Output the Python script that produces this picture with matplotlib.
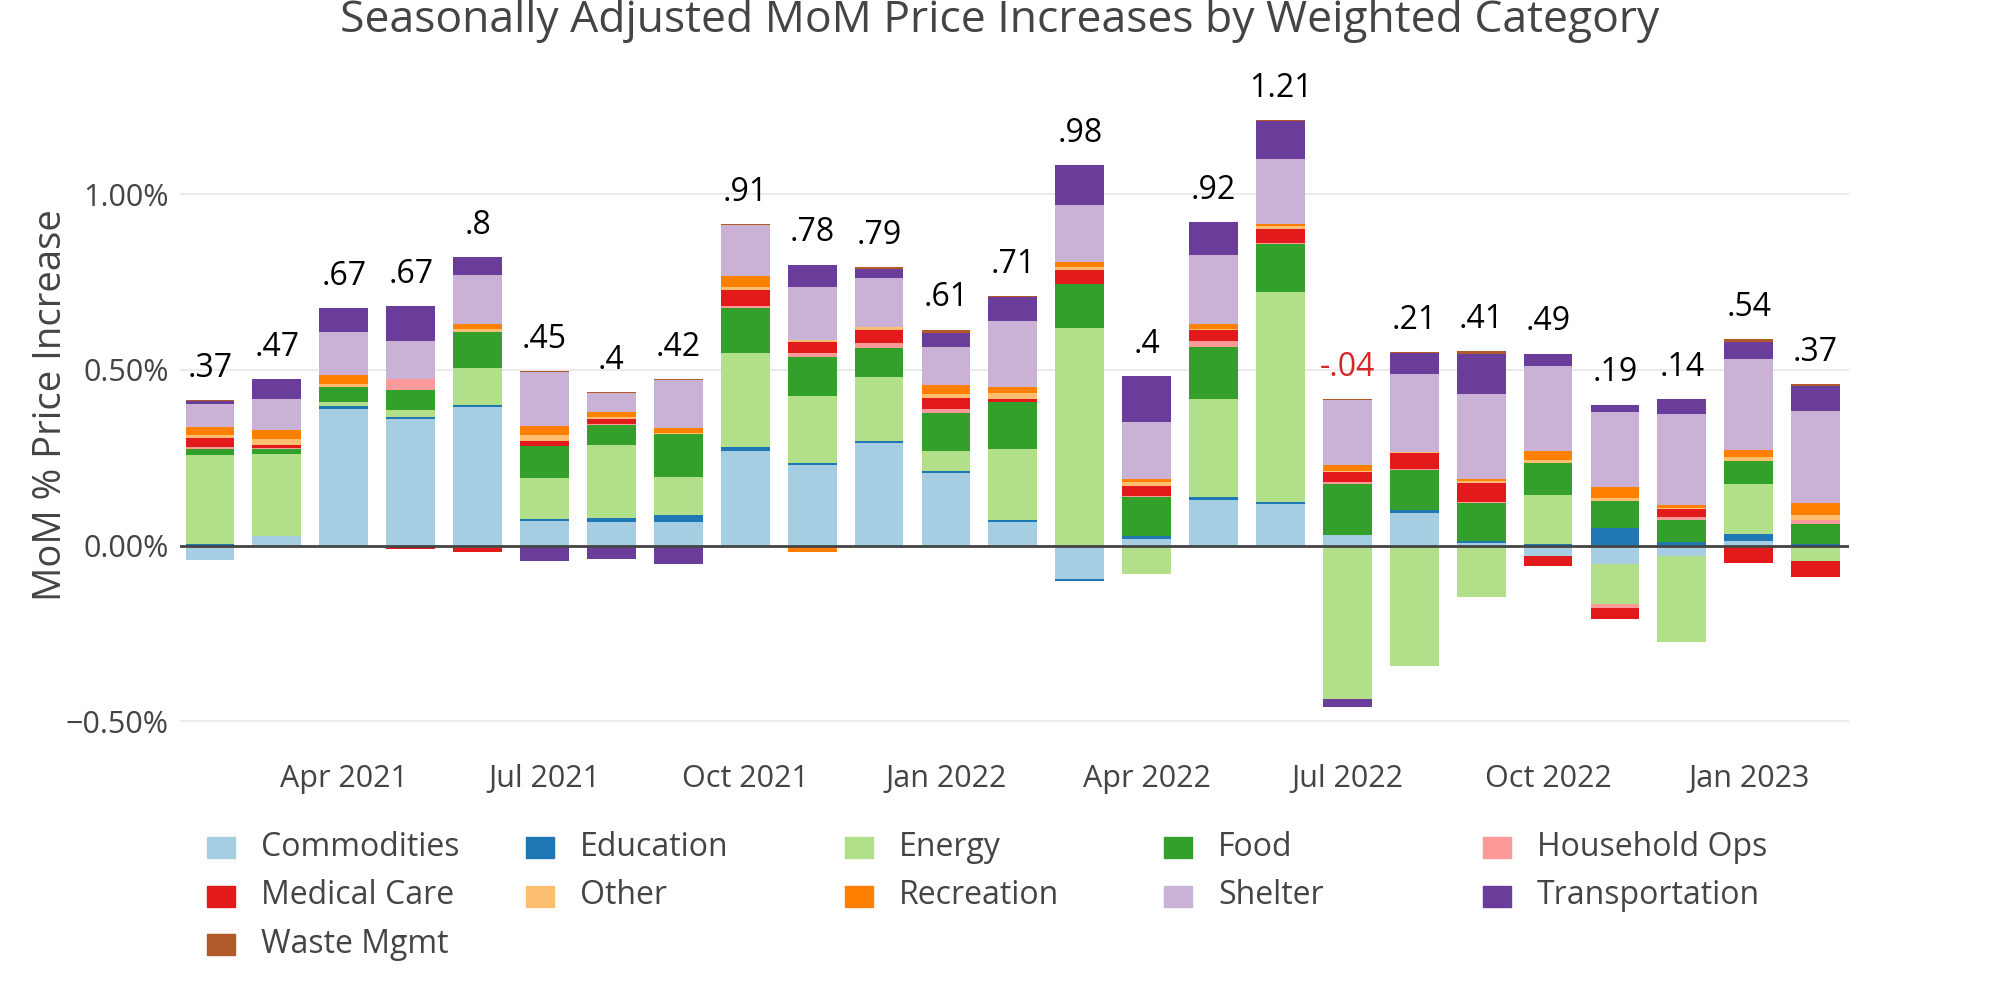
import numpy as np
import pandas as pd
import matplotlib
matplotlib.use("Agg")
import matplotlib.pyplot as plt
from matplotlib.patches import Rectangle

plt.rcParams['font.family'] = ['Open Sans', 'DejaVu Sans']

months = pd.date_range("2021-02-01", periods=25, freq="MS")

categories = ["Commodities", "Education", "Energy", "Food", "Household Ops",
              "Medical Care", "Other", "Recreation", "Shelter", "Transportation",
              "Waste Mgmt"]
colors = ["#a6cee3", "#1f78b4", "#b2df8a", "#33a02c", "#fb9a99",
          "#e31a1c", "#fdbf6f", "#ff7f00", "#cab2d6", "#6a3d9a", "#b15928"]

# weighted MoM contribution (%), one value per month
commodities = [-0.041, 0.026, 0.390, 0.359, 0.393, 0.070, 0.068, 0.068, 0.268, 0.230, 0.293, 0.206, 0.068,
               -0.096, 0.020, 0.131, 0.118, 0.029, 0.094, 0.008, -0.030, -0.053, -0.030, 0.013, -0.004]
education = [0.004, 0.001, 0.007, 0.008, 0.006, 0.006, 0.010, 0.019, 0.012, 0.004, 0.004, 0.005, 0.005,
             -0.006, 0.008, 0.008, 0.005, 0.000, 0.008, 0.006, 0.006, 0.050, 0.010, 0.021, 0.006]
energy = [0.255, 0.233, 0.012, 0.018, 0.107, 0.117, 0.207, 0.108, 0.267, 0.191, 0.182, 0.057, 0.202,
          0.620, -0.082, 0.278, 0.599, -0.436, -0.343, -0.145, 0.138, -0.114, -0.243, 0.140, -0.040]
food = [0.017, 0.014, 0.042, 0.058, 0.103, 0.090, 0.058, 0.123, 0.130, 0.112, 0.084, 0.110, 0.133,
        0.124, 0.109, 0.149, 0.136, 0.146, 0.112, 0.106, 0.092, 0.077, 0.064, 0.067, 0.055]
household = [0.004, 0.003, 0.000, 0.030, -0.006, 0.000, 0.003, 0.000, 0.005, 0.010, 0.012, 0.012, 0.000,
             0.000, 0.003, 0.016, 0.003, 0.006, 0.003, 0.004, 0.000, -0.010, 0.008, 0.000, 0.012]
medical = [0.027, 0.010, -0.003, -0.010, -0.012, 0.014, 0.015, 0.000, 0.045, 0.033, 0.037, 0.030, 0.008,
           0.041, 0.030, 0.031, 0.040, 0.027, 0.046, 0.055, -0.029, -0.033, 0.021, -0.050, -0.046]
other = [0.008, 0.016, 0.008, 0.000, 0.007, 0.019, 0.005, 0.003, 0.008, 0.005, 0.010, 0.011, 0.017,
         0.007, 0.010, 0.004, 0.007, 0.005, 0.002, 0.005, 0.008, 0.009, 0.005, 0.010, 0.013]
recreation = [0.023, 0.027, 0.026, 0.000, 0.014, 0.025, 0.014, 0.014, 0.033, -0.018, 0.000, 0.025, 0.019,
              0.014, 0.010, 0.014, 0.008, 0.015, 0.000, 0.006, 0.026, 0.030, 0.008, 0.022, 0.036]
shelter = [0.065, 0.088, 0.122, 0.110, 0.140, 0.152, 0.054, 0.135, 0.143, 0.152, 0.140, 0.110, 0.188,
           0.164, 0.161, 0.196, 0.184, 0.186, 0.222, 0.242, 0.240, 0.213, 0.259, 0.257, 0.262]
transportation = [0.008, 0.055, 0.069, 0.098, 0.050, -0.044, -0.039, -0.051, 0.000, 0.062, 0.026, 0.038, 0.067,
                  0.113, 0.132, 0.094, 0.108, -0.024, 0.061, 0.112, 0.036, 0.022, 0.041, 0.048, 0.069]
waste = [0.002, 0.001, 0.000, 0.000, 0.000, 0.004, 0.002, 0.004, 0.003, 0.000, 0.005, 0.010, 0.003,
         0.000, 0.000, 0.000, 0.003, 0.003, 0.003, 0.009, 0.000, 0.000, 0.000, 0.010, 0.007]

series = [commodities, education, energy, food, household, medical, other,
          recreation, shelter, transportation, waste]

fig = plt.figure(figsize=(19.99, 10), dpi=100)
ax = fig.add_axes([0.09, 0.254, 0.835, 0.682])

x = np.arange(len(months))
pos = np.zeros(len(x))
neg = np.zeros(len(x))
for name, vals, c in zip(categories, series, colors):
    v = np.array(vals)
    bottom = np.where(v >= 0, pos, neg)
    ax.bar(x, v, bottom=bottom, width=0.73, color=c, linewidth=0, label=name, zorder=3)
    pos += np.where(v >= 0, v, 0)
    neg += np.where(v < 0, v, 0)

totals = pos + neg
for xi, top, t in zip(x, pos, totals):
    s = f"{t:.2f}".rstrip('0').rstrip('.')
    s = s.replace("0.", ".", 1) if s.lstrip('-').startswith("0.") else s
    ax.annotate(s, (xi, top), xytext=(0, 11), textcoords="offset points",
                ha="center", va="bottom", fontsize=23,
                color="#d62728" if t < 0 else "black", zorder=4)

ax.axhline(0, color="#444444", linewidth=2, zorder=4)
ax.set_ylim(-0.57, 1.37)
ax.set_xlim(-0.45, len(x) - 0.5)
ax.set_yticks([-0.5, 0, 0.5, 1.0])
ax.set_yticklabels(["\u22120.50%", "0.00%", "0.50%", "1.00%"])
ax.grid(axis="y", color="#ebebeb", linewidth=1.5, zorder=0)
ticks = [i for i, m in enumerate(months) if m.month in (1, 4, 7, 10)]
ax.set_xticks(ticks)
ax.set_xticklabels([months[i].strftime("%b %Y") for i in ticks])
ax.tick_params(axis="both", length=0, labelsize=22, labelcolor="#444444")
ax.tick_params(axis="x", pad=13)
ax.tick_params(axis="y", pad=8)
for sp in ax.spines.values():
    sp.set_visible(False)
ax.set_ylabel("MoM % Price Increase", fontsize=27.5, color="#444444")
ax.yaxis.set_label_coords(-0.066, 0.5)

fig.text(0.5, 0.968, "Seasonally Adjusted MoM Price Increases by Weighted Category",
         ha="center", va="baseline", fontsize=32, color="#444444")

# legend laid out row by row, five per row
for i, (name, c) in enumerate(zip(categories, colors)):
    row, col = divmod(i, 5)
    yc = 0.1525 - row * 0.0485
    x0 = (207 + col * 319) / 1999
    fig.patches.append(Rectangle((x0, yc - 0.0105), 28 / 1999, 0.021,
                                 transform=fig.transFigure, color=c))
    fig.text(x0 + 54 / 1999, yc, name, ha="left", va="center",
             fontsize=23, color="#444444")

fig.savefig("out.png", dpi=100)
